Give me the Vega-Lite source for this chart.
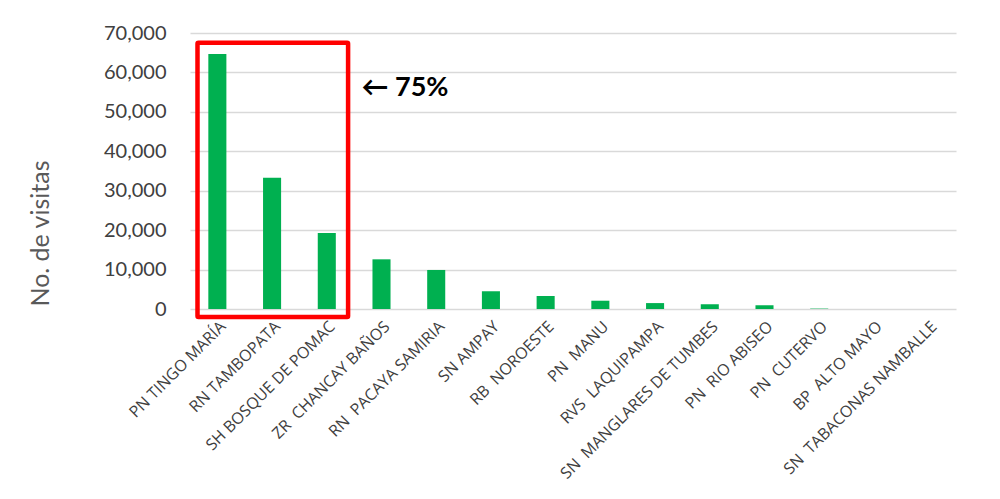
{
  "$schema": "https://vega.github.io/schema/vega-lite/v6.json",
  "autosize": "none",
  "width": 766,
  "height": 276,
  "padding": {"left": 190, "top": 33, "right": 44, "bottom": 190},
  "background": "white",
  "config": {"view": {"stroke": null}},
  "datasets": {
    "visits": [
      {"area": "PN TINGO MARÍA", "visitas": 64700},
      {"area": "RN TAMBOPATA", "visitas": 33300},
      {"area": "SH BOSQUE DE POMAC", "visitas": 19300},
      {"area": "ZR \u00a0CHANCAY BAÑOS", "visitas": 12600},
      {"area": "RN \u00a0PACAYA SAMIRIA", "visitas": 9900},
      {"area": "SN AMPAY", "visitas": 4500},
      {"area": "RB \u00a0NOROESTE", "visitas": 3300},
      {"area": "PN \u00a0MANU", "visitas": 2100},
      {"area": "RVS \u00a0LAQUIPAMPA", "visitas": 1500},
      {"area": "SN \u00a0MANGLARES DE TUMBES", "visitas": 1200},
      {"area": "PN \u00a0RIO ABISEO", "visitas": 950},
      {"area": "PN \u00a0CUTERVO", "visitas": 100},
      {"area": "BP \u00a0ALTO MAYO", "visitas": 0},
      {"area": "SN \u00a0TABACONAS NAMBALLE", "visitas": 0}
    ],
    "box": [
      {"area": "PN TINGO MARÍA", "end": "SH BOSQUE DE POMAC", "visitas": 67500, "bottom": -2050}
    ],
    "note": [
      {"area": "ZR \u00a0CHANCAY BAÑOS", "visitas": 56000, "label": "← 75%"}
    ]
  },
  "encoding": {
    "x": {
      "field": "area", "type": "nominal",
      "scale": {
        "domain": ["PN TINGO MARÍA", "RN TAMBOPATA", "SH BOSQUE DE POMAC", "ZR \u00a0CHANCAY BAÑOS", "RN \u00a0PACAYA SAMIRIA", "SN AMPAY", "RB \u00a0NOROESTE", "PN \u00a0MANU", "RVS \u00a0LAQUIPAMPA", "SN \u00a0MANGLARES DE TUMBES", "PN \u00a0RIO ABISEO", "PN \u00a0CUTERVO", "BP \u00a0ALTO MAYO", "SN \u00a0TABACONAS NAMBALLE"],
        "paddingInner": 0.67, "paddingOuter": 0.335
      },
      "axis": {
        "title": null, "labelAngle": -45, "labelFont": "Open Sans", "labelFontSize": 16,
        "labelColor": "#404040", "domain": false, "ticks": false, "labelPadding": 9,
        "labelLimit": 300, "labelOverlap": false
      }
    },
    "y": {
      "field": "visitas", "type": "quantitative",
      "scale": {"domain": [0, 70000], "nice": false},
      "axis": {
        "title": "No. de visitas", "titleFont": "Lato", "titleFontSize": 25, "titleFontWeight": "normal",
        "titleColor": "#595959", "titleX": -150, "titleY": 200, "titleAngle": -90,
        "titleAlign": "center", "titleBaseline": "middle",
        "values": [0, 10000, 20000, 30000, 40000, 50000, 60000, 70000],
        "tickCount": 8,
        "format": ",d", "labelFont": "Lato", "labelFontSize": 20, "labelColor": "#404040",
        "labelPadding": 24, "domain": false, "ticks": false, "labelOverlap": false,
        "grid": true, "gridColor": "#d9d9d9", "gridWidth": 1.3
      }
    }
  },
  "layer": [
    {
      "data": {"name": "visits"},
      "mark": {"type": "bar", "color": "#00b050"}
    },
    {
      "data": {"name": "box"},
      "mark": {"type": "rect", "fill": null, "stroke": "#ff0000", "strokeWidth": 4.5, "clip": false, "cornerRadius": 1},
      "encoding": {
        "x": {"field": "area", "type": "nominal", "bandPosition": -0.6},
        "x2": {"field": "end", "bandPosition": 1.68},
        "y2": {"field": "bottom"}
      }
    },
    {
      "data": {"name": "note"},
      "mark": {"type": "text", "font": "Lato", "fontWeight": "bold", "fontSize": 27, "align": "left", "baseline": "middle", "color": "#000000", "dx": -11},
      "encoding": {
        "x": {"field": "area", "type": "nominal", "bandPosition": 0},
        "text": {"field": "label"}
      }
    }
  ]
}
